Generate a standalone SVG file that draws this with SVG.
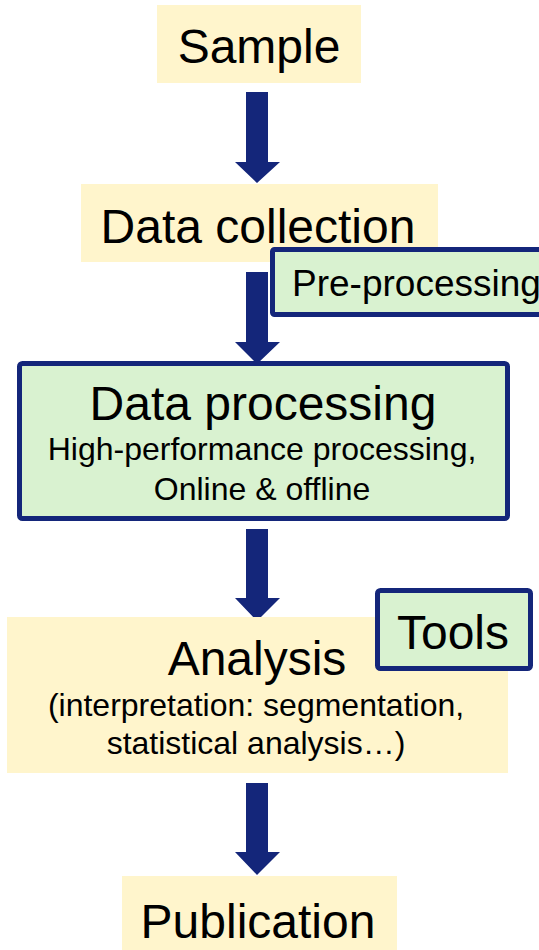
<svg xmlns="http://www.w3.org/2000/svg" width="539" height="950" viewBox="0 0 539 950">
<style>
.y{fill:#fff5cc;stroke:none}
.g{fill:#d9f2d0;stroke:#14267a;stroke-width:5}
.t{font-family:"Liberation Sans",Arial,sans-serif;fill:#000;text-anchor:middle}
.big{font-size:48px}
.mid{font-size:37px}
.sm{font-size:32px}
.arr{fill:#14267a}
</style>
<rect width="539" height="950" fill="#fff"/>
<g id="connectors">
<polygon class="arr" points="246,92 268,92 268,162 280,162 257,183 235,162 246,162"/>
<polygon class="arr" points="246,272 268,272 268,342 280,342 257,364 235,342 246,342"/>
<polygon class="arr" points="246,529 268,529 268,598 280,598 257,621 235,598 246,598"/>
<polygon class="arr" points="246,783 268,783 268,852 280,852 257,875 235,852 246,852"/>
</g>
<g id="sample">
<rect class="y" x="157" y="5" width="204" height="78"/>
<text class="t big" x="259" y="63">Sample</text>
</g>
<g id="data-collection">
<rect class="y" x="81" y="184" width="357" height="78"/>
<text class="t big" x="258" y="243">Data collection</text>
</g>
<g id="pre-processing">
<rect class="g" x="272.5" y="249.5" width="280" height="65" rx="2"/>
<text class="t mid" x="292" y="296" style="text-anchor:start">Pre-processing</text>
</g>
<g id="data-processing">
<rect class="g" x="19.5" y="363.5" width="488" height="155" rx="3"/>
<text class="t big" x="263" y="420">Data processing</text>
<text class="t sm" x="262" y="460">High-performance processing,</text>
<text class="t sm" x="262" y="500">Online &amp; offline</text>
</g>
<g id="analysis">
<rect class="y" x="7" y="617" width="501" height="156"/>
<text class="t big" x="257" y="675">Analysis</text>
<text class="t sm" x="256" y="716">(interpretation: segmentation,</text>
<text class="t sm" x="256" y="754">statistical analysis…)</text>
</g>
<g id="tools">
<rect class="g" x="377.5" y="590.5" width="153" height="78" rx="3"/>
<text class="t big" x="453" y="649">Tools</text>
</g>
<g id="publication">
<rect class="y" x="122" y="876" width="275" height="74"/>
<text class="t big" x="258" y="938">Publication</text>
</g>
</svg>
